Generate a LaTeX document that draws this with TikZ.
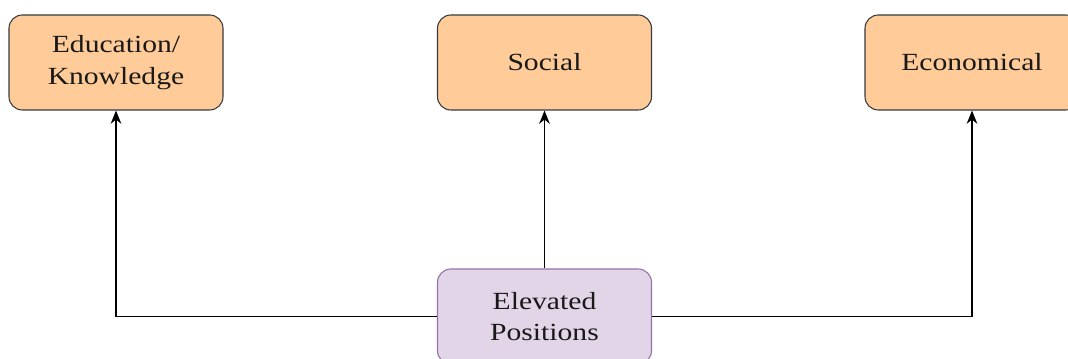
\documentclass[tikz,border=0pt]{standalone}
\usepackage{fontspec}
\usepackage{graphicx}
\setmainfont{Liberation Serif}
\usetikzlibrary{arrows.meta}
\newcommand\sx[1]{\scalebox{1.2}[1]{#1}}
\definecolor{orfill}{HTML}{FFCC99}
\definecolor{orline}{HTML}{36393D}
\definecolor{pufill}{HTML}{E1D5E7}
\definecolor{puline}{HTML}{9673A6}
\tikzset{
  box/.style={rectangle, rounded corners=10pt, minimum width=160.5pt, minimum height=71.25pt,
    line width=0.8pt, align=center, inner sep=0pt, font=\fontsize{18.5}{23.5}\selectfont, text=black!90},
  orbox/.style={box, fill=orfill, draw=orline},
  pubox/.style={box, fill=pufill, draw=puline},
  conn/.style={line width=1.1pt, draw=black, -{Stealth[length=10pt,width=8pt]}}
}
\begin{document}
\begin{tikzpicture}[x=0.75pt,y=-0.75pt]
\useasboundingbox (0,0) rectangle (1068,359);
\clip (0,0) rectangle (1068,359);
\node[orbox] (edu) at (116,62.5) {\sx{Education/}\\\sx{Knowledge}};
\node[orbox] (soc) at (544.5,62.5) {\sx{Social}};
\node[orbox] (eco) at (972,62.5) {\sx{Economical}};
\node[pubox] (elev) at (544.5,316.5) {\sx{Elevated}\\\sx{Positions}};
\draw[conn] (elev.west) -| (edu.south);
\draw[conn] (elev.north) -- (soc.south);
\draw[conn] (elev.east) -| (eco.south);
\end{tikzpicture}
\end{document}
